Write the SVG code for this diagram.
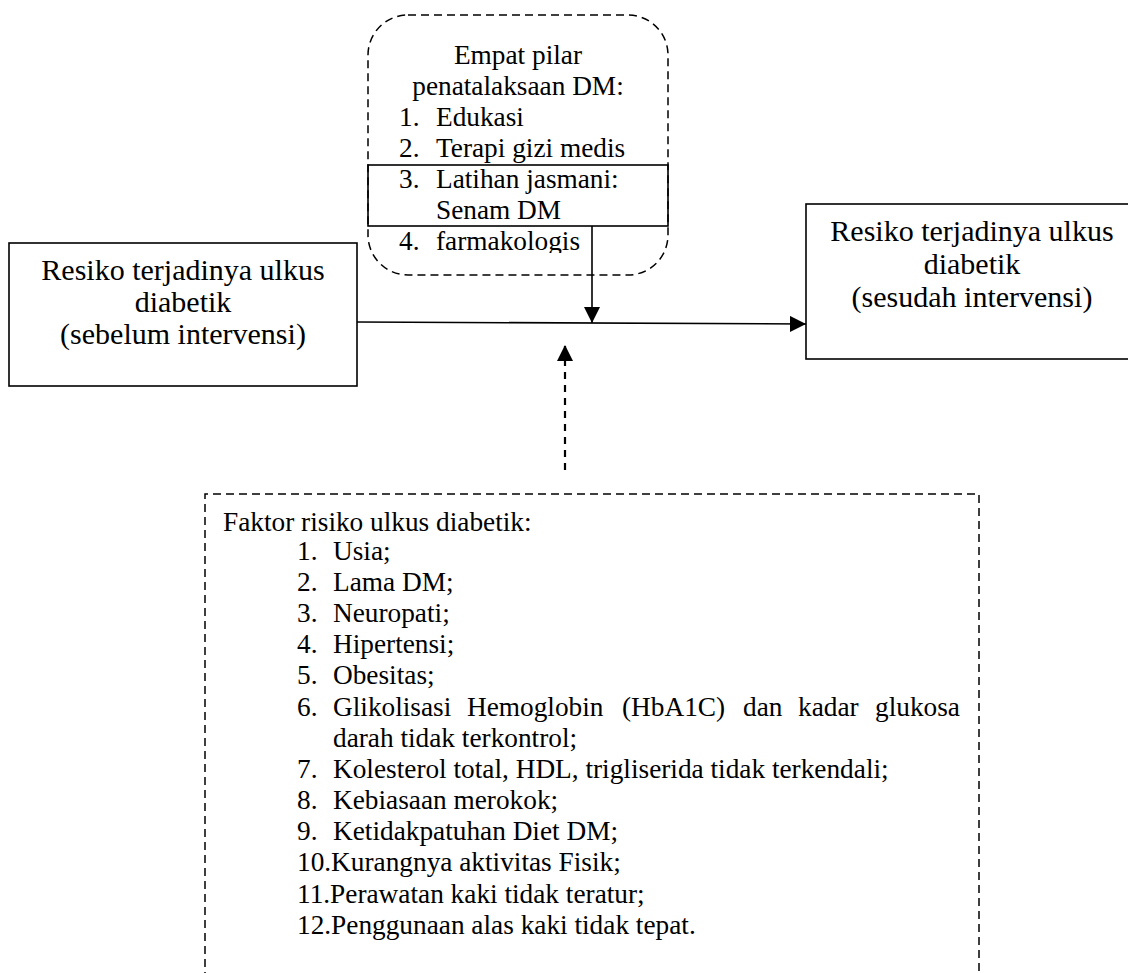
<svg xmlns="http://www.w3.org/2000/svg" width="1128" height="973" viewBox="0 0 1128 973">
<style>
  .t { font-family: "Liberation Serif", "Times New Roman", serif; fill: #000; }
  .box { font-size: 30px; }
  .lst { font-size: 27.3px; }
  .solid { fill: none; stroke: #000; stroke-width: 1.6; }
  .dash { fill: none; stroke: #000; stroke-width: 1.5; stroke-dasharray: 8 5; }
  .conn { fill: none; stroke: #000; stroke-width: 1.6; }
  .conn-dash { fill: none; stroke: #000; stroke-width: 2.2; stroke-dasharray: 7 6; }
</style>
<defs>
  <marker id="arrow" markerUnits="userSpaceOnUse" markerWidth="18" markerHeight="16" refX="16" refY="8" orient="auto">
    <path d="M0,0 L16,8 L0,16 Z" fill="#000"/>
  </marker>
  <clipPath id="topclip">
    <rect x="360" y="10" width="320" height="243"/>
  </clipPath>
</defs>
<rect width="1128" height="973" fill="#fff"/>

<g id="pilar">
  <rect class="dash" x="368" y="15" width="300" height="260" rx="40" ry="40"/>
  <rect class="solid" x="368" y="165" width="300" height="61"/>
  <g clip-path="url(#topclip)" class="t lst">
    <text x="518" y="64" text-anchor="middle">Empat pilar</text>
    <text x="518" y="95" text-anchor="middle">penatalaksaan DM:</text>
    <text x="399" y="126">1.</text><text x="436" y="126">Edukasi</text>
    <text x="399" y="157">2.</text><text x="436" y="157">Terapi gizi medis</text>
    <text x="399" y="188">3.</text><text x="436" y="188">Latihan jasmani:</text>
    <text x="436" y="219">Senam DM</text>
    <text x="399" y="250">4.</text><text x="436" y="250">farmakologis</text>
  </g>
</g>

<g id="sebelum">
  <rect class="solid" x="9" y="243" width="348" height="143"/>
  <g class="t box" text-anchor="middle">
    <text x="183" y="280">Resiko terjadinya ulkus</text>
    <text x="183" y="312">diabetik</text>
    <text x="183" y="344">(sebelum intervensi)</text>
  </g>
</g>

<g id="sesudah">
  <rect class="solid" x="806" y="204" width="340" height="155"/>
  <g class="t box" text-anchor="middle">
    <text x="972" y="241">Resiko terjadinya ulkus</text>
    <text x="972" y="274">diabetik</text>
    <text x="972" y="307">(sesudah intervensi)</text>
  </g>
</g>

<g id="faktor">
  <path class="dash" d="M205,980 L205,494 L979,494 L979,980"/>
  <g class="t lst">
    <text x="223" y="531">Faktor risiko ulkus diabetik:</text>
    <text x="297" y="560">1.</text><text x="333" y="560">Usia;</text>
    <text x="297" y="591">2.</text><text x="333" y="591">Lama DM;</text>
    <text x="297" y="622">3.</text><text x="333" y="622">Neuropati;</text>
    <text x="297" y="653">4.</text><text x="333" y="653">Hipertensi;</text>
    <text x="297" y="684">5.</text><text x="333" y="684">Obesitas;</text>
    <text x="297" y="716">6.</text>
    <text y="716"><tspan x="333">Glikolisasi</tspan><tspan x="467">Hemoglobin</tspan><tspan x="622">(HbA1C)</tspan><tspan x="743">dan</tspan><tspan x="798">kadar</tspan><tspan x="875">glukosa</tspan></text>
    <text x="333" y="747">darah tidak terkontrol;</text>
    <text x="297" y="778">7.</text><text x="333" y="778">Kolesterol total, HDL, trigliserida tidak terkendali;</text>
    <text x="297" y="809">8.</text><text x="333" y="809">Kebiasaan merokok;</text>
    <text x="297" y="840">9.</text><text x="333" y="840">Ketidakpatuhan Diet DM;</text>
    <text x="297" y="871">10.Kurangnya aktivitas Fisik;</text>
    <text x="297" y="903">11.Perawatan kaki tidak teratur;</text>
    <text x="297" y="934">12.Penggunaan alas kaki tidak tepat.</text>
  </g>
</g>

<g id="connectors">
  <line class="conn" x1="357" y1="322" x2="806" y2="324" marker-end="url(#arrow)"/>
  <line class="conn" x1="592" y1="226" x2="592" y2="323" marker-end="url(#arrow)"/>
  <line class="conn-dash" x1="565" y1="470" x2="565" y2="345" marker-end="url(#arrow)"/>
</g>
</svg>
